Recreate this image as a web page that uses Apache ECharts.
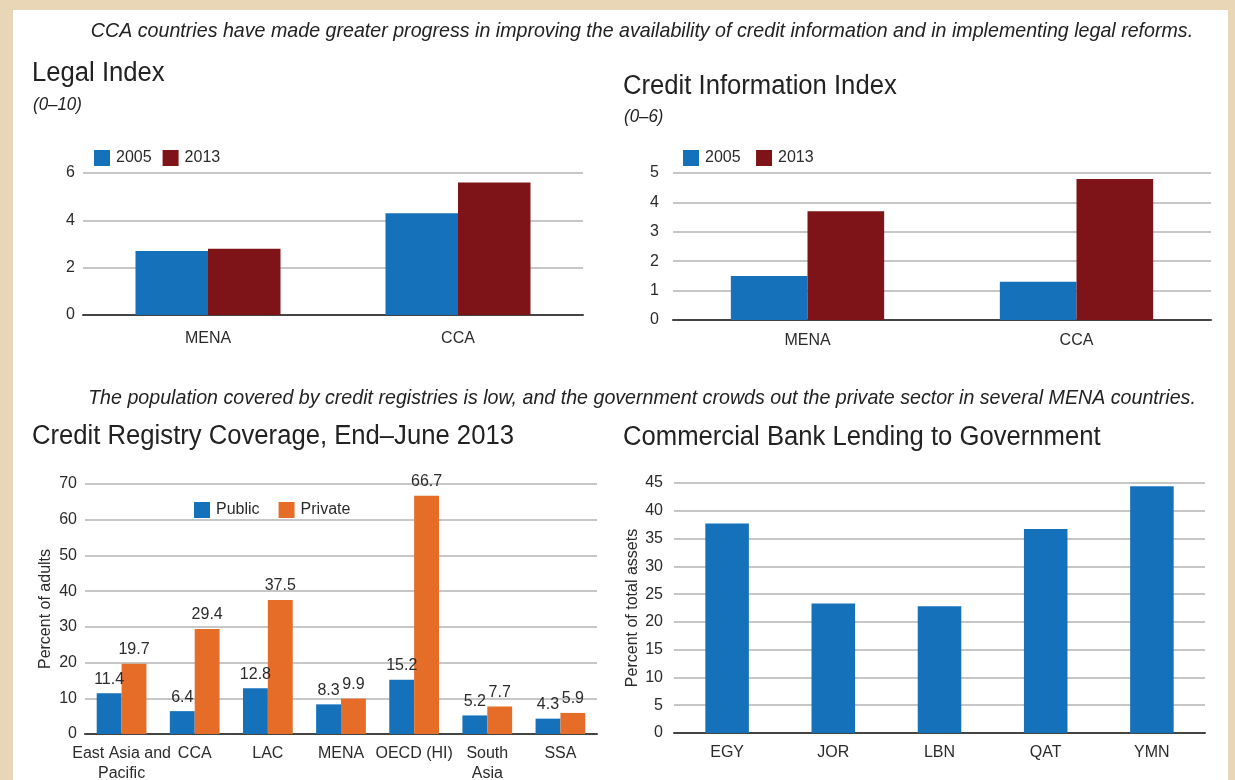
<!DOCTYPE html>
<html>
<head>
<meta charset="utf-8">
<script src="https://cdn.jsdelivr.net/npm/echarts@6/dist/echarts.min.js"></script>
<style>
  html, body { margin: 0; padding: 0; background: #e8d6b7; }
  #chart { width: 1235px; height: 780px; }
</style>
</head>
<body>
<div id="chart"></div>
<script>
const legalCats = ['MENA', 'CCA'];
const legal2005 = [2.7, 4.3];
const legal2013 = [2.8, 5.6];

const infoCats = ['MENA', 'CCA'];
const info2005 = [1.5, 1.3];
const info2013 = [3.7, 4.8];

const registryCats = ['East Asia and\nPacific', 'CCA', 'LAC', 'MENA', 'OECD (HI)', 'South\nAsia', 'SSA'];
const registryPublic = [11.4, 6.4, 12.8, 8.3, 15.2, 5.2, 4.3];
const registryPrivate = [19.7, 29.4, 37.5, 9.9, 66.7, 7.7, 5.9];

const lendingCats = ['EGY', 'JOR', 'LBN', 'QAT', 'YMN'];
const lendingValues = [37.7, 23.3, 22.8, 36.7, 44.4];

const blue = '#1571b9';
const darkRed = '#7f1418';
const orange = '#e56d27';
const textColor = '#2b2b2b';
const gridColor = '#b4b4b4';
const sans = '"Liberation Sans", Arial, Helvetica, sans-serif';

const chart = echarts.init(document.getElementById('chart'), null, { renderer: 'canvas' });

const valueAxis = (gridIndex, max, interval, margin, extra = {}) => ({
    type: 'value',
    gridIndex,
    min: 0,
    max,
    interval,
    axisLine: { show: false },
    axisTick: { show: false },
    axisLabel: { color: textColor, fontSize: 16, fontFamily: sans, margin },
    splitLine: { lineStyle: { color: gridColor, width: 1.5 } },
    ...extra,
});

const catAxis = (gridIndex, data, margin) => ({
    type: 'category',
    gridIndex,
    data,
    axisLine: { lineStyle: { color: '#444', width: 2 } },
    axisTick: { show: false },
    axisLabel: { color: textColor, fontSize: 16, fontFamily: sans, margin, interval: 0, lineHeight: 20 },
});

const legendStyle = {
    itemWidth: 16,
    itemHeight: 16,
    itemGap: 11,
    icon: 'rect',
    textStyle: { color: textColor, fontSize: 16, fontFamily: sans, padding: [0, 0, 0, 1] },
};

// condensed look: regular sans squeezed horizontally
const titleText = (x, y, text) => ({
    type: 'text', x, y, scaleX: 0.95,
    style: { text, fill: '#222', font: `27px ${sans}`, textVerticalAlign: 'middle' },
});
const subText = (x, y, text) => ({
    type: 'text', x, y, scaleX: 0.94,
    style: { text, fill: '#222', font: `italic 18px ${sans}`, textVerticalAlign: 'middle' },
});
const note = (y, text) => ({
    type: 'text', x: 642, y, scaleX: 0.935,
    style: { text, fill: '#222', font: `italic 21px ${sans}`, textAlign: 'center', textVerticalAlign: 'middle' },
});

const yName = (name, nameGap) => ({
    name, nameLocation: 'middle', nameGap,
    nameTextStyle: { color: textColor, fontSize: 16, fontFamily: sans },
});

const barLabel = { show: true, position: 'top', distance: 6, color: textColor, fontSize: 16, fontFamily: sans };

const grid = (left, right, top, bottom) => ({ left, right, top, bottom, outerBoundsMode: 'none', containLabel: false });

chart.setOption({
    animation: false,
    graphic: [
        { type: 'rect', shape: { x: 13, y: 10, width: 1215, height: 770 }, style: { fill: '#ffffff' }, z: -10 },
        note(31, 'CCA countries have made greater progress in improving the availability of credit information and in implementing legal reforms.'),
        titleText(32, 74, 'Legal Index'),
        subText(33, 105, '(0–10)'),
        titleText(623, 87, 'Credit Information Index'),
        subText(624, 117, '(0–6)'),
        note(398, 'The population covered by credit registries is low, and the government crowds out the private sector in several MENA countries.'),
        titleText(32, 437, 'Credit Registry Coverage, End–June 2013'),
        titleText(623, 438, 'Commercial Bank Lending to Government'),
    ],
    legend: [
        { ...legendStyle, left: 89, top: 145, data: ['2005', '2013'] },
        { ...legendStyle, left: 678, top: 145, data: [{ name: '2005 ' }, { name: '2013 ' }] },
        { ...legendStyle, itemGap: 19, left: 189, top: 497, data: ['Public', 'Private'] },
    ],
    grid: [
        grid(83, 652, 173, 465),
        grid(673, 24, 173, 460),
        grid(85, 638, 484, 46),
        grid(674, 30, 483, 47),
    ],
    xAxis: [
        catAxis(0, legalCats, 14),
        catAxis(1, infoCats, 11),
        catAxis(2, registryCats, 10),
        catAxis(3, lendingCats, 10),
    ],
    yAxis: [
        valueAxis(0, 6, 2, 8),
        valueAxis(1, 5, 1, 14),
        valueAxis(2, 70, 10, 8, yName('Percent of adults', 31)),
        valueAxis(3, 45, 5, 11, yName('Percent of total assets', 33)),
    ],
    series: [
        { name: '2005', type: 'bar', xAxisIndex: 0, yAxisIndex: 0, data: legal2005, itemStyle: { color: blue }, barGap: '0%', barCategoryGap: '42%' },
        { name: '2013', type: 'bar', xAxisIndex: 0, yAxisIndex: 0, data: legal2013, itemStyle: { color: darkRed }, barGap: '0%', barCategoryGap: '42%' },
        { name: '2005 ', type: 'bar', xAxisIndex: 1, yAxisIndex: 1, data: info2005, itemStyle: { color: blue }, barGap: '0%', barCategoryGap: '43%' },
        { name: '2013 ', type: 'bar', xAxisIndex: 1, yAxisIndex: 1, data: info2013, itemStyle: { color: darkRed }, barGap: '0%', barCategoryGap: '43%' },
        {
            name: 'Public', type: 'bar', xAxisIndex: 2, yAxisIndex: 2, data: registryPublic,
            itemStyle: { color: blue }, barGap: '0%', barCategoryGap: '32%', label: barLabel,
        },
        {
            name: 'Private', type: 'bar', xAxisIndex: 2, yAxisIndex: 2, data: registryPrivate,
            itemStyle: { color: orange }, barGap: '0%', barCategoryGap: '32%', label: barLabel,
        },
        { name: 'Lending', type: 'bar', xAxisIndex: 3, yAxisIndex: 3, data: lendingValues, itemStyle: { color: blue }, barCategoryGap: '59%' },
    ],
});
</script>
</body>
</html>
